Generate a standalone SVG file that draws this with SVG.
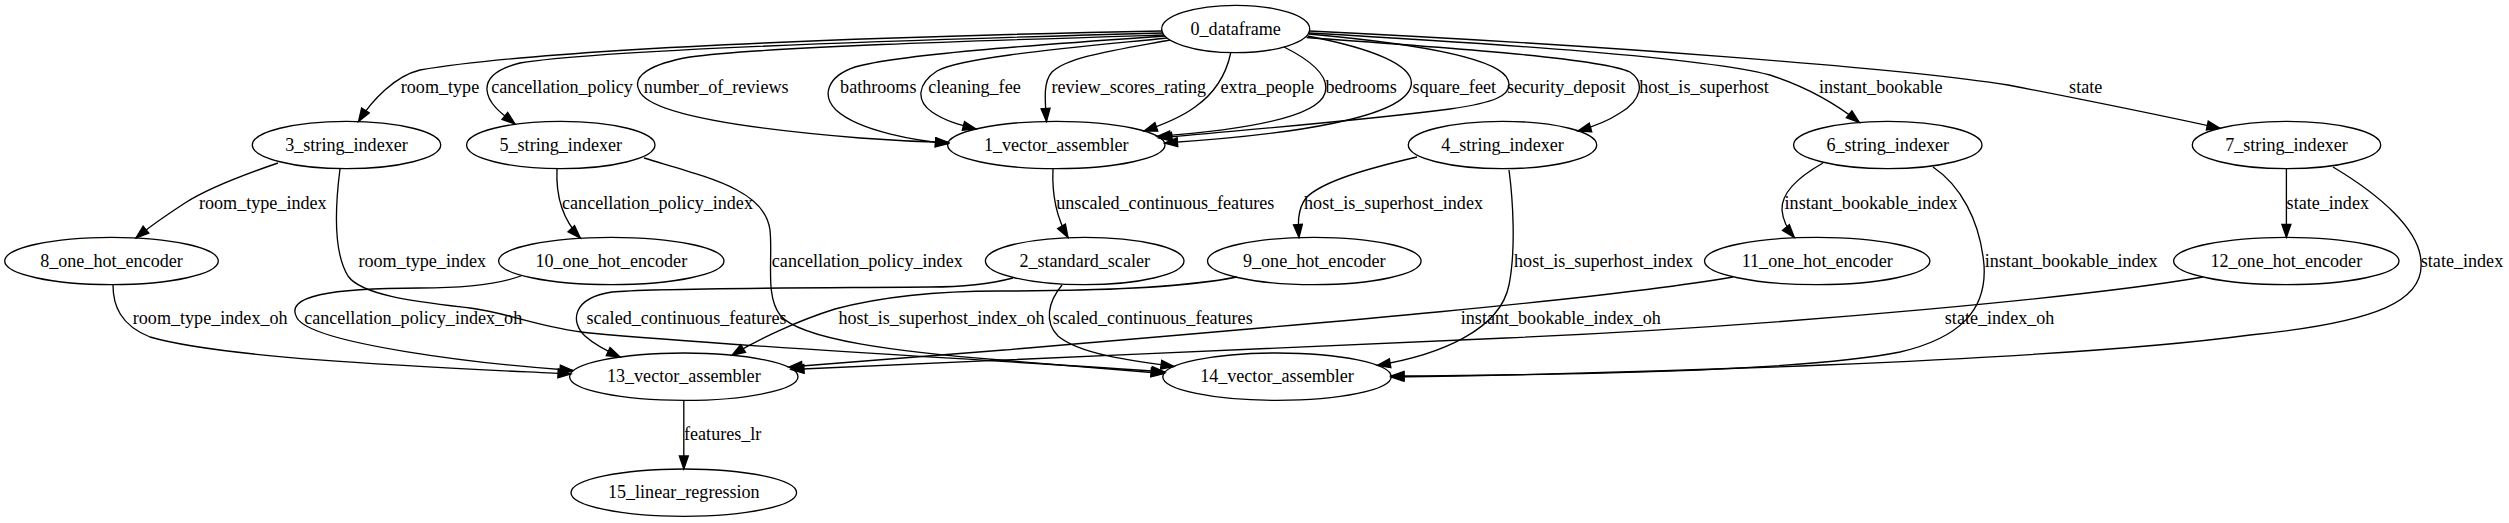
<svg xmlns="http://www.w3.org/2000/svg" width="2509" height="523" viewBox="0 0 2509 523">
<defs>
<style>
.n ellipse{fill:none;stroke:#000;stroke-width:1.33}
text{font-family:"Liberation Serif","Times New Roman",serif;font-size:18.1px;fill:#000}
.n text{text-anchor:middle}
.lbl text{text-anchor:middle}
.e path{fill:none;stroke:#000;stroke-width:1.33;marker-end:url(#a)}
</style>
<marker id="a" markerUnits="userSpaceOnUse" markerWidth="16" markerHeight="12" refX="14" refY="5.5" orient="auto">
<path d="M1,1 L14,5.5 L1,10 Z" fill="#000" stroke="#000" stroke-width="1.33"/>
</marker>
</defs>
<rect width="2509" height="523" fill="#fff"/>
<g id="edges" class="e">
<path d="M1162,31 C950,35 560,46 420,70 C395,76 372,100 358.5,121.5"/>
<path d="M1163,33 C900,40 600,50 520,63 C500,68 486,76 487,90 C488,105 505,116 515,124"/>
<path d="M1164,35 C1000,40 760,47 690,57 C650,64 632,76 639,90 C645,108 700,125 860,138 C900,141 930,142 948.5,142.5"/>
<path d="M1165,36 C1050,44 900,54 855,67 C826,77 822,96 836,110 C860,132 920,141 948.5,143.5"/>
<path d="M1167,38 C1080,47 960,57 937,71 C917,84 916,101 932,112 C945,121 960,125 976,129"/>
<path d="M1170,40 C1110,51 1068,57 1052,72 C1043,82 1045,100 1046.5,121.4"/>
<path d="M1230.7,53 C1226,75 1215,93 1195,107 C1180,118 1162,125 1144,131"/>
<path d="M1284,47 C1310,60 1330,76 1325,93 C1317,120 1230,131 1157,136.5"/>
<path d="M1307.5,36 C1370,48 1416,65 1411,86 C1404,118 1290,135 1164.5,143"/>
<path d="M1308.5,34 C1420,44 1500,58 1508,80 C1514,96 1492,103 1450,109 C1350,122 1230,131 1159,138"/>
<path d="M1306.5,37.5 C1450,48 1600,58 1630,72 C1645,82 1642,100 1620,113 C1608,121 1592,127 1578,131"/>
<path d="M1309,33 C1500,44 1700,57 1770,75 C1810,88 1840,107 1859.3,122.4"/>
<path d="M1309.5,31 C1600,45 1900,68 2008,85 C2080,99 2150,113 2220,128.3"/>
<path d="M1053,169 C1052,190 1055,215 1068,237.6"/>
<path d="M278,163 C240,176 205,190 185,203 C165,216 148,228 136,238"/>
<path d="M340,169 C336,200 332,250 348,276 C362,296 420,302 470,308 C510,313 540,328 590,333 C750,348 1000,360 1165,372"/>
<path d="M557,169 C556,190 560,217 580.3,238"/>
<path d="M644,158 C710,178 765,190 770,230 C773,260 765,295 780,315 C800,340 900,352 1000,360 C1060,365 1120,370 1164,373.5"/>
<path d="M1013,278 C990,284 965,287 930,287 C800,288 650,288 612,292 C572,298 570,322 585,336 C595,345 607,351 620,357"/>
<path d="M1062,285 C1048,302 1044,322 1058,336 C1080,355 1140,362 1174,366.5"/>
<path d="M1417,157 C1370,168 1322,181 1306,198 C1297,210 1298,225 1299,237.5"/>
<path d="M1509,170 C1513,200 1516,250 1509,285 C1500,330 1440,355 1377.3,365.3"/>
<path d="M1823,163 C1800,176 1781,192 1782,210 C1783,222 1788,230 1794.3,237.5"/>
<path d="M1933,167 C1960,185 1980,220 1984,265 C1987,310 1960,338 1900,352 C1800,372 1550,375 1391,376"/>
<path d="M2286.4,169 L2286.4,237.3"/>
<path d="M2333,167 C2380,195 2420,230 2421,262 C2424,300 2380,322 2250,335 C2050,362 1600,374 1391,377"/>
<path d="M113,285 C113,305 120,325 150,337 C230,360 450,368 571,374"/>
<path d="M522,275.5 C500,284 470,288 420,288 C330,288 284,296 297,318 C312,344 480,364 573,370.5"/>
<path d="M1237,277 C1180,288 1100,291 1000,291 C940,291 880,297 835,309 C800,320 760,338 732,355.2"/>
<path d="M1733,277 C1600,300 1300,325 1004,350 C920,357 850,362 789,367"/>
<path d="M2203,277 C2100,295 1800,325 1506,338 C1300,347 1000,360 791,369.5"/>
<path d="M683.8,400.5 L683.8,469"/>
</g>
<g id="edge-labels" class="lbl">
<text x="440" y="93">room_type</text>
<text x="562" y="93">cancellation_policy</text>
<text x="716.2" y="93">number_of_reviews</text>
<text x="878.3" y="93">bathrooms</text>
<text x="974.5" y="93">cleaning_fee</text>
<text x="1128.8" y="93">review_scores_rating</text>
<text x="1267.3" y="93">extra_people</text>
<text x="1361.2" y="93">bedrooms</text>
<text x="1454.3" y="93">square_feet</text>
<text x="1566.3" y="93">security_deposit</text>
<text x="1704" y="93">host_is_superhost</text>
<text x="1880.7" y="93">instant_bookable</text>
<text x="2085.7" y="93">state</text>
<text x="262.8" y="208.5">room_type_index</text>
<text x="422.3" y="266.5">room_type_index</text>
<text x="657.5" y="208.5">cancellation_policy_index</text>
<text x="867.3" y="266.5">cancellation_policy_index</text>
<text x="1165.3" y="208.5">unscaled_continuous_features</text>
<text x="1393.5" y="208.5">host_is_superhost_index</text>
<text x="1603.5" y="266.5">host_is_superhost_index</text>
<text x="1871" y="208.5">instant_bookable_index</text>
<text x="2071.2" y="266.5">instant_bookable_index</text>
<text x="2327.8" y="208.5">state_index</text>
<text x="2462" y="266.5">state_index</text>
<text x="210.2" y="324">room_type_index_oh</text>
<text x="413.2" y="324">cancellation_policy_index_oh</text>
<text x="686.5" y="324">scaled_continuous_features</text>
<text x="941.5" y="324">host_is_superhost_index_oh</text>
<text x="1152.7" y="324">scaled_continuous_features</text>
<text x="1560.8" y="324">instant_bookable_index_oh</text>
<text x="1999.6" y="324">state_index_oh</text>
<text x="722.7" y="440">features_lr</text>
</g>
<g id="n0" class="n"><ellipse cx="1235.7" cy="29" rx="74" ry="23.7"/><text x="1235.7" y="34.5">0_dataframe</text></g>
<g id="n1" class="n"><ellipse cx="1056.3" cy="145" rx="108.7" ry="23.7"/><text x="1056.3" y="150.5">1_vector_assembler</text></g>
<g id="n2" class="n"><ellipse cx="1084.7" cy="261" rx="99.3" ry="23.7"/><text x="1084.7" y="266.5">2_standard_scaler</text></g>
<g id="n3" class="n"><ellipse cx="346.5" cy="145" rx="94.2" ry="23.7"/><text x="346.5" y="150.5">3_string_indexer</text></g>
<g id="n4" class="n"><ellipse cx="1502.5" cy="145" rx="94.2" ry="23.7"/><text x="1502.5" y="150.5">4_string_indexer</text></g>
<g id="n5" class="n"><ellipse cx="560.8" cy="145" rx="94.2" ry="23.7"/><text x="560.8" y="150.5">5_string_indexer</text></g>
<g id="n6" class="n"><ellipse cx="1887.8" cy="145" rx="94.2" ry="23.7"/><text x="1887.8" y="150.5">6_string_indexer</text></g>
<g id="n7" class="n"><ellipse cx="2286.5" cy="145" rx="94.2" ry="23.7"/><text x="2286.5" y="150.5">7_string_indexer</text></g>
<g id="n8" class="n"><ellipse cx="111.5" cy="261" rx="106.8" ry="23.7"/><text x="111.5" y="266.5">8_one_hot_encoder</text></g>
<g id="n9" class="n"><ellipse cx="1314.3" cy="261" rx="106.8" ry="23.7"/><text x="1314.3" y="266.5">9_one_hot_encoder</text></g>
<g id="n10" class="n"><ellipse cx="611.3" cy="261" rx="112.7" ry="23.7"/><text x="611.3" y="266.5">10_one_hot_encoder</text></g>
<g id="n11" class="n"><ellipse cx="1817.2" cy="261" rx="112.7" ry="23.7"/><text x="1817.2" y="266.5">11_one_hot_encoder</text></g>
<g id="n12" class="n"><ellipse cx="2286.3" cy="261" rx="112.7" ry="23.7"/><text x="2286.3" y="266.5">12_one_hot_encoder</text></g>
<g id="n13" class="n"><ellipse cx="683.8" cy="376.7" rx="114.2" ry="23.7"/><text x="683.8" y="382.2">13_vector_assembler</text></g>
<g id="n14" class="n"><ellipse cx="1277" cy="376.7" rx="114.2" ry="23.7"/><text x="1277" y="382.2">14_vector_assembler</text></g>
<g id="n15" class="n"><ellipse cx="683.8" cy="492.7" rx="112.8" ry="23.7"/><text x="683.8" y="498.2">15_linear_regression</text></g>
</svg>
